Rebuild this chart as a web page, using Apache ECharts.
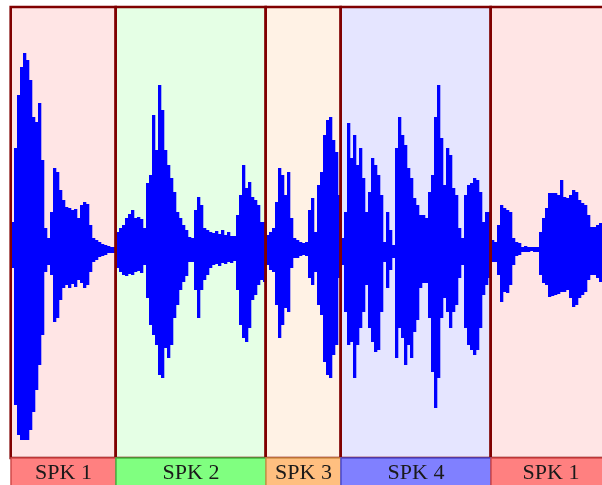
<!DOCTYPE html>
<html>
<head>
<meta charset="utf-8">
<script src="https://cdn.jsdelivr.net/npm/echarts@6/dist/echarts.min.js"></script>
<style>html,body{margin:0;padding:0;background:#fff;}#chart{width:602px;height:485px;}</style>
</head>
<body>
<div id="chart"></div>
<script>
// ---- data ----
const frameStep = 0.03; // seconds per envelope frame
const frameStart = 0.015;
const upperEnv = [13.5,50.5,77,91,98,94.5,84.5,66,63.5,73,44.5,10.5,5.5,18.5,40.5,38.5,29.5,24.5,21,20.5,
19.5,20,15.5,22,23.5,22.5,12,5.5,4.5,3.5,2.5,2,1.5,1,1,8.5,10.5,12,15.5,17.5,
19.5,15.5,16,15,10.5,33,37,67,49.5,82,69.5,49.5,42,35.5,28.5,18.5,15.5,12,9.5,6,
5.5,19.5,26,22,10.5,9.5,8.5,8,9,7.5,9.5,7,8.5,6.5,6.5,17,27,42,30.5,33.5,
26,24.5,22,13.5,13.5,7,8.5,10.5,23.5,40.5,37,27,38.5,15.5,5.5,4.5,3.5,3,3.5,19.5,
25.5,8.5,32,38.5,57,64.5,66,54.5,48.5,27,5.5,18.5,63,45.5,57,42,50.5,35.5,18.5,28.5,
45.5,42,37,27,3.5,18.5,9.5,2,50.5,66,57,52,40.5,35.5,25.5,22,17,17,15.5,28.5,
37,66,82,55.5,32,50.5,47,30.5,27,10.5,5.5,27,32,33,35.5,34.5,28.5,13.5,18.5,18.5,
4.5,3.5,12,22,20.5,19.5,18.5,5.5,3.5,3,1,1.5,1,1,1,1,8.5,15.5,20.5,28,
28,28,27,34.5,26,25.5,27,29.5,28.5,24.5,23,22,17,11,11,12,13];
const lowerEnv = [-9.5,-78,-93,-95.5,-95.5,-95.5,-90.5,-81.5,-70.5,-58,-43,-11.5,-8,-13,-36.5,-34.5,-25.5,-19.5,-18,-19.5,
-17.5,-19,-15.5,-17,-19.5,-18,-11.5,-6.5,-5.5,-4,-3.5,-3,-2,-2,-2,-9.5,-11.5,-13,-13.5,-12.5,
-13,-11.5,-11,-12,-8,-24.5,-38,-43,-48,-63,-64.5,-49.5,-54.5,-48,-34.5,-28,-20.5,-16.5,-13.5,-6.5,
-6.5,-20.5,-34.5,-20.5,-15.5,-13,-9.5,-8,-7.5,-8.5,-7,-7.5,-6.5,-7,-6,-20.5,-38,-44.5,-46.5,-39.5,
-25.5,-23,-18,-15.5,-16.5,-8,-10.5,-11.5,-28,-44.5,-38,-29.5,-31.5,-9.5,-4.5,-4.5,-3.5,-3,-3.5,-14.5,
-18,-11.5,-28,-33,-56.5,-63,-64.5,-53,-48,-14.5,-8,-31.5,-48,-46.5,-64.5,-48,-39.5,-31.5,-18,-39.5,
-46.5,-51.5,-50.5,-31.5,-6.5,-19.5,-10.5,-4.5,-54.5,-39.5,-44.5,-58,-48,-54.5,-41.5,-35.5,-19.5,-17,-17,-34.5,
-61.5,-79.5,-64.5,-34.5,-24.5,-31.5,-39.5,-31.5,-28,-14.5,-8,-39.5,-48,-50.5,-53,-50.5,-39.5,-23,-18,-14.5,
-6.5,-6.5,-13,-26.5,-21.5,-22,-18,-8,-3.5,-3,-1.5,-1.5,-1.5,-1,-1.5,-1.5,-13,-17,-18,-24,
-23.5,-23,-22.5,-21.5,-21.5,-20.5,-24.5,-29,-28,-24.5,-23,-21.5,-15.5,-13,-13,-14.5,-16.5];
const segStarts = [0, 1.05, 2.55, 3.30, 4.80];
const segEnds = [1.05, 2.55, 3.30, 4.80, 6.00];
const segSpeaker = [0, 1, 2, 3, 0];
const speakerLabels = ['SPK 1', 'SPK 2', 'SPK 3', 'SPK 4'];

// ---- styles ----
const bgColors = ['#ffe5e5', '#e5ffe5', '#fff2e5', '#e5e5ff'];
const tagFill = ['#ff8080', '#80ff80', '#ffbf80', '#8080ff'];
const tagStroke = ['#d04a4a', '#44b844', '#d0924a', '#4a4ad0'];
const yMin = -104.5, yMax = 121;
const xMax = 5.91; // visible time span

const waveData = upperEnv.map((u, i) => [frameStart + frameStep * i, u, lowerEnv[i]]);
const segData = segStarts.map((s, i) => [s, segEnds[i], segSpeaker[i]]);

const chart = echarts.init(document.getElementById('chart'), null, {renderer: 'canvas'});
chart.setOption({
  animation: false,
  grid: {left: 11, top: 7, right: 0, bottom: 27, containLabel: false},
  xAxis: {type: 'value', min: 0, max: xMax, show: false, splitLine: {show: false}},
  yAxis: {type: 'value', min: yMin, max: yMax, show: false, splitLine: {show: false}},
  series: [
    {
      type: 'custom', z: 1, clip: true, silent: true,
      data: segData,
      renderItem: (p, api) => {
        const a = api.coord([api.value(0), yMax]);
        const b = api.coord([api.value(1), yMin]);
        return {type: 'rect', shape: {x: a[0], y: a[1], width: b[0] - a[0], height: b[1] - a[1]},
          style: {fill: bgColors[api.value(2)]}};
      }
    },
    {
      type: 'custom', z: 2, clip: true, silent: true,
      data: waveData,
      renderItem: (p, api) => {
        const t = api.value(0);
        const a = api.coord([t - frameStep / 2, api.value(1)]);
        const b = api.coord([t + frameStep / 2, api.value(2)]);
        return {type: 'rect', shape: {x: a[0], y: a[1], width: b[0] - a[0] + 0.3, height: b[1] - a[1]},
          style: {fill: '#0000ff'}};
      }
    },
    {
      type: 'custom', z: 3, clip: false, silent: true,
      data: segData,
      renderItem: (p, api) => {
        const a = api.coord([api.value(0), yMax]);
        const b = api.coord([api.value(1), yMin]);
        return {type: 'rect', shape: {x: a[0] - 0.3, y: a[1], width: b[0] - a[0], height: b[1] - a[1]},
          style: {fill: null, stroke: '#800000', lineWidth: 2.6}};
      }
    },
    {
      type: 'custom', z: 4, clip: false, silent: true,
      data: segData,
      renderItem: (p, api) => {
        const a = api.coord([api.value(0), yMin]);
        const b = api.coord([api.value(1), yMin]);
        const k = api.value(2);
        const h = 29;
        return {type: 'group', children: [
          {type: 'rect', shape: {x: a[0], y: a[1], width: b[0] - a[0], height: h},
            style: {fill: tagFill[k], stroke: tagStroke[k], lineWidth: 1.5}},
          {type: 'text', x: (a[0] + b[0]) / 2, y: a[1] + h / 2 + 0.5,
            style: {text: speakerLabels[k], fill: '#1a1a1a', font: '22px "Liberation Serif", "DejaVu Serif", serif',
              align: 'center', verticalAlign: 'middle'}}
        ]};
      }
    }
  ]
});
</script>
</body>
</html>
